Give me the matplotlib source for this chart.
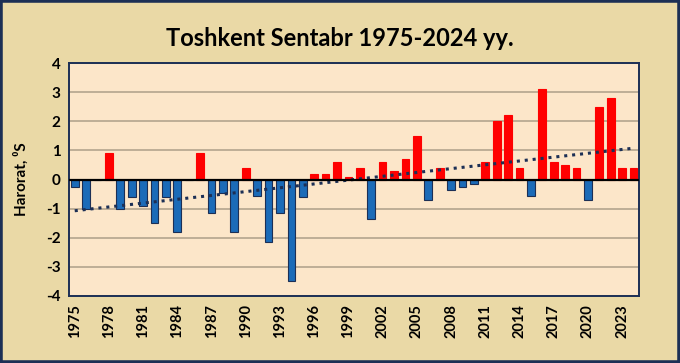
import matplotlib
matplotlib.use("Agg")
import matplotlib.pyplot as plt
import numpy as np
from matplotlib.patches import Rectangle

# ---------------------------------------------------------------------------
# Data: September temperature anomaly, Tashkent
# ---------------------------------------------------------------------------
YEARS = list(range(1975, 2025))
ANOMALY = [
    -0.25, -1.0, 0.0, 0.9, -1.0, -0.6, -0.9, -1.5, -0.6, -1.8,
    0.0, 0.9, -1.15, -0.45, -1.8, 0.4, -0.55, -2.15, -1.15, -3.5,
    -0.6, 0.2, 0.2, 0.6, 0.1, 0.4, -1.35, 0.6, 0.3, 0.7,
    1.5, -0.7, 0.4, -0.35, -0.25, -0.15, 0.6, 2.0, 2.2, 0.4,
    -0.55, 3.1, 0.6, 0.5, 0.4, -0.7, 2.5, 2.8, 0.4, 0.4,
]
TICK_YEARS = list(range(1975, 2025, 3))
Y_TICKS = list(range(-4, 5))

TITLE = "Toshkent Sentabr 1975-2024 yy."
YLABEL = "Harorat, \u2070S"

FIG_BG = "#ead9a6"
AX_BG = "#fce6c9"
RED = "#ff0000"
BLUE = "#1b6bb8"
NAVY = "#1c2f55"
GRID = "#b9aa92"
FONT = ["Lato", "DejaVu Sans"]


def main() -> None:
    plt.rcParams["font.family"] = FONT
    fig = plt.figure(figsize=(6.8, 3.63), dpi=100, facecolor=FIG_BG)
    ax = fig.add_axes([0.1015, 0.1846, 0.8385, 0.6418])
    ax.set_facecolor(AX_BG)

    x = np.arange(len(YEARS))
    vals = np.array(ANOMALY)
    colors = [RED if v > 0 else BLUE for v in vals]
    edges = [RED if v > 0 else NAVY for v in vals]
    ax.bar(x, vals, width=0.68, color=colors, edgecolor=edges, linewidth=0.8, zorder=3)

    # linear trend
    k, b = np.polyfit(x, vals, 1)
    ax.plot(x, k * x + b, color=NAVY, linestyle=(0, (1, 1.6)), linewidth=2.2, zorder=4)

    ax.axhline(0, color="black", linewidth=1.6, zorder=5)
    ax.set_ylim(-4, 4)
    ax.set_xlim(-0.5, len(YEARS) - 0.5)
    ax.set_yticks(Y_TICKS)
    ax.set_yticklabels([str(t) for t in Y_TICKS], fontsize=11, fontweight="bold")
    ax.yaxis.grid(True, color=GRID, linewidth=1.3, zorder=0)
    ax.set_axisbelow(True)

    ax.set_xticks([YEARS.index(y) for y in TICK_YEARS])
    ax.set_xticklabels([str(y) for y in TICK_YEARS], rotation=90,
                       fontsize=10.5, fontweight="bold")
    ax.tick_params(axis="both", length=0, pad=6)

    for sp in ax.spines.values():
        sp.set_color(NAVY)
        sp.set_linewidth(1.4)

    ax.set_ylabel(YLABEL, fontsize=11, fontweight="bold", labelpad=12)
    fig.text(0.5, 0.895, TITLE, ha="center", va="center", fontsize=17, fontweight="bold")

    fig.patches.append(Rectangle((0, 0), 1, 1, transform=fig.transFigure,
                                 fill=False, edgecolor=NAVY, linewidth=4))

    fig.savefig("out.png", dpi=100, facecolor=FIG_BG)
    plt.close(fig)


if __name__ == "__main__":
    main()
